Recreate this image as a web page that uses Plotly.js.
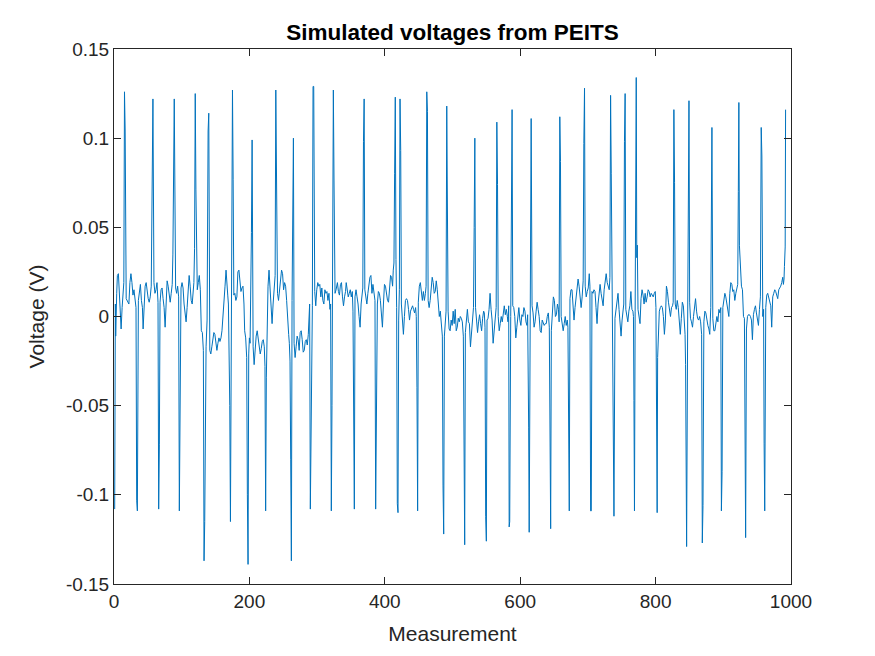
<!DOCTYPE html>
<html>
<head>
<meta charset="utf-8">
<script src="https://cdn.plot.ly/plotly-3.0.1.min.js"></script>
<style>
html,body{margin:0;padding:0;background:#fff;}
#chart{width:875px;height:656px;}
</style>
</head>
<body>
<div id="chart"></div>
<script>
const readings0to200 = [[1,-0.108],[2,0.007],[2.5,-0.011],[4,0.013],[5,0.023],[6.5,0.024],[7.5,0.017],[9,0.005],[10.5,-0.007],[12,0.005],[13.5,0.013],[14.5,0.019],[15.5,0.126],[16.5,0.104],[18,0.010],[20,0.008],[22,0.007],[23.5,0.019],[25,0.024],[26.5,0.019],[28,0.012],[29.5,0.015],[31,0.008],[32.5,0.005],[33.5,-0.103],[34.5,-0.109],[36,0.009],[37.5,0.015],[39,0.018],[40.5,0.009],[42,0.005],[43,-0.007],[44.5,0.004],[46,0.017],[47.5,0.019],[49,0.014],[50.5,0.010],[52,0.008],[53.5,0.011],[55,0.017],[56.5,0.080],[57.5,0.122],[59,0.019],[60.5,0.013],[62,0.015],[63.5,0.019],[65,0.008],[66,-0.108],[67,-0.072],[68,0.008],[69.5,0.015],[71,0.016],[72.5,0.010],[74,0.005],[75.5,-0.006],[77,0.006],[78.5,0.020],[80,0.017],[81.5,0.011],[83,0.008],[84.5,0.013],[86,0.018],[87,0.035],[88,0.077],[89,0.122],[91,0.016],[92.5,0.013],[94,0.017],[95.5,0.011],[96.5,-0.109],[97.5,-0.072],[99,0.016],[100.5,0.019],[102,0.016],[103.5,0.007],[105,0.003],[106.5,-0.003],[108,0.005],[109.5,0.013],[111,0.023],[112.5,0.017],[114,0.009],[115.5,0.007],[117,0.013],[118,0.019],[119,0.038],[120,0.125],[121,0.071],[123,0.015],[124.5,0.019],[126,0.023],[127.5,0.015],[129,-0.008],[130.5,-0.009],[132,-0.019],[133,-0.137],[134,-0.115],[136,-0.017],[137.5,-0.002],[139,0.104],[140,0.114],[141.5,-0.019],[143,-0.021],[144.5,-0.017],[146,-0.011],[147.5,-0.009],[149,-0.010],[150.5,-0.017],[152,-0.019],[153.5,-0.015],[155,-0.012],[156.5,-0.014],[158,-0.012],[159.5,-0.008],[161,-0.001],[162.5,0.008],[164,0.017],[165.5,0.026],[167,0.020],[168,0.012],[169,0.007],[170,-0.013],[171,-0.050],[172,-0.115],[173,0.010],[174,0.019],[175,0.127],[176,0.077],[177,0.012],[178.5,0.013],[180,0.009],[181.5,0.011],[183,0.025],[184.5,0.026],[186,0.017],[187.5,0.014],[189,0.016],[190.5,0.017],[192,0.007],[193,-0.008],[194.5,-0.012],[196,-0.023],[197,-0.100],[198,-0.139],[199,-0.021]];
const readings200to400 = [[200,-0.012],[201,-0.015],[202,0.010],[203,0.047],[204,0.099],[205.5,-0.017],[207,-0.027],[208.5,-0.017],[210,-0.011],[211.5,-0.008],[213,-0.012],[214.5,-0.017],[216,-0.021],[217.5,-0.018],[219,-0.014],[220.5,-0.013],[222,-0.017],[223,-0.028],[224,-0.109],[225,-0.034],[226,0.000],[227.5,0.017],[229,0.026],[230.5,0.013],[232,0.002],[233.5,-0.004],[235,0.007],[236.5,0.019],[238,0.023],[239,0.127],[240,0.086],[241.5,0.013],[243,0.009],[244.5,0.015],[246,0.019],[247.5,0.026],[249,0.024],[250.5,0.015],[252,0.019],[253.5,0.017],[255,0.009],[256.5,0.002],[258,-0.010],[259,-0.015],[260,-0.025],[261,-0.080],[262,-0.137],[263,0.009],[264,0.050],[265,0.100],[266,-0.015],[267.5,-0.023],[269,-0.017],[270.5,-0.011],[272,-0.013],[273.5,-0.019],[275,-0.009],[276.5,-0.008],[278,-0.013],[279.5,-0.020],[281,-0.019],[282.5,-0.014],[284,-0.013],[285.5,-0.016],[287,-0.010],[288,0.000],[289,0.007],[290,-0.108],[291,-0.053],[292,0.000],[293,0.006],[294,0.129],[295,0.129],[296.5,0.014],[298,0.006],[299.5,0.015],[301,0.019],[302.5,0.017],[304,0.018],[305.5,0.011],[307,0.016],[308.5,0.009],[310,0.007],[311.5,0.015],[313,0.013],[314.5,0.014],[316,0.009],[317.5,0.013],[319,0.004],[320,0.007],[321,-0.109],[322,-0.050],[323,0.028],[324,0.127],[325,0.076],[326.5,0.013],[328,0.015],[330,0.019],[331.5,0.014],[333,0.012],[334.5,0.018],[336,0.019],[337.5,0.011],[339,0.006],[340.5,0.011],[342,0.014],[343,0.019],[344.5,0.016],[346,0.011],[347.5,0.013],[349,0.015],[350.5,0.011],[352,0.014],[353,0.003],[354,-0.108],[355,-0.108],[356,0.011],[357.5,0.015],[359,0.011],[360.5,0.007],[362,0.000],[363.5,-0.006],[365,0.007],[366.5,0.013],[367.5,0.016],[368.5,0.098],[369.5,0.122],[370.5,0.015],[372,0.011],[373.5,0.007],[375,0.013],[376.5,0.019],[378,0.022],[379.5,0.023],[381,0.013],[382.5,0.018],[384,0.014],[385.5,0.009],[386.5,-0.108],[387.5,-0.065],[389,0.007],[390.5,0.014],[392,0.013],[393.5,0.009],[395,0.000],[396.5,-0.006],[398,0.007],[399.5,0.018]];
const readings400to600 = [[401,0.017],[402.5,0.011],[404,0.009],[405.5,0.008],[407,0.017],[408.5,0.023],[410,0.022],[411.5,0.017],[412.5,0.026],[413.5,0.030],[414.5,0.080],[415.5,0.123],[416.5,0.032],[417.5,0.005],[418.5,-0.105],[419.5,-0.110],[420.5,-0.002],[421.5,0.015],[422.5,0.122],[423.5,0.093],[424.5,0.007],[426,0.000],[427.5,-0.010],[429,0.000],[430.5,0.009],[432,0.010],[433.5,0.009],[435,0.004],[436.5,-0.002],[438,0.003],[439.5,0.005],[441,0.006],[442.5,0.004],[444,0.002],[445.5,0.005],[446.5,0.000],[447.5,-0.040],[448.5,-0.109],[449.5,0.008],[451,0.017],[452.5,0.019],[454,0.015],[455.5,0.009],[457,0.014],[458.5,0.009],[460,0.013],[461,0.017],[462,0.126],[463,0.115],[464,0.009],[465.5,0.005],[467,0.009],[468.5,0.018],[470,0.022],[471.5,0.019],[473,0.013],[474.5,0.014],[476,0.020],[477.5,0.015],[479,0.009],[480.5,0.000],[482,0.003],[483.5,-0.003],[485,-0.011],[486,-0.095],[487,-0.122],[488,-0.011],[489.5,-0.001],[490.5,0.003],[491.5,0.118],[492.5,0.080],[493.5,0.003],[495,-0.007],[496.5,-0.008],[498,-0.002],[499.5,-0.005],[501,0.003],[502.5,-0.004],[504,0.004],[505.5,-0.008],[507,-0.006],[508.5,-0.001],[510,-0.003],[511.5,0.000],[513,-0.001],[514.5,-0.003],[516,-0.011],[517,-0.097],[518,-0.128],[519,-0.009],[520.5,-0.001],[522,0.004],[523.5,-0.003],[525,-0.004],[526.5,-0.017],[528,-0.009],[529.5,0.000],[531,0.005],[532,0.050],[533,0.100],[534,0.005],[535.5,-0.006],[537,-0.009],[538.5,-0.003],[540,0.001],[541.5,-0.004],[543,-0.008],[544.5,-0.001],[546,0.003],[547,0.002],[548,-0.006],[549,-0.112],[550,-0.126],[551,-0.002],[552.5,-0.001],[554,0.004],[555.5,0.013],[557,0.004],[558.5,-0.002],[560,-0.015],[561.5,-0.008],[563,0.001],[564.5,0.005],[565.5,0.109],[566.5,0.074],[567.5,0.000],[569,-0.008],[570.5,-0.004],[572,0.000],[573.5,-0.003],[575,0.002],[576.5,0.006],[578,0.001],[579.5,0.004],[581,0.000],[582,-0.003],[583,0.006],[583.7,-0.118],[584.5,-0.115],[586,0.000],[587,0.065],[588,0.116],[589,0.006],[590.5,0.005],[592,0.000],[593.5,-0.012],[595,-0.006],[596.5,-0.001],[598,0.005],[599.5,-0.002]];
const readings600to800 = [[601,-0.005],[602.5,0.001],[604,0.000],[605.5,0.005],[607,0.003],[608.5,-0.003],[610,-0.005],[611,0.001],[611.8,-0.026],[612.5,-0.062],[613.3,-0.121],[614.5,-0.013],[615.3,0.062],[616.2,0.111],[617.5,0.006],[619,0.002],[620.5,-0.006],[622,-0.003],[623.5,0.003],[625,0.008],[626.5,0.004],[628,0.000],[629.5,-0.008],[631,-0.009],[632.5,-0.002],[634,-0.004],[635.5,-0.005],[637,-0.004],[638.5,-0.004],[640,0.000],[641.5,0.002],[643,-0.006],[644,-0.074],[645,-0.119],[646,-0.008],[647.5,0.004],[649,0.011],[650.5,0.009],[652,0.000],[653.5,0.001],[655,0.007],[656.5,0.004],[657.5,-0.003],[658.5,0.112],[659.5,0.087],[660.5,0.000],[662,-0.003],[663.5,-0.008],[665,-0.004],[666.5,0.000],[668,-0.005],[669.5,-0.002],[670.5,-0.006],[671.5,-0.067],[672.5,-0.109],[673.5,0.010],[675,0.015],[676.5,0.015],[678,0.007],[679.5,-0.002],[681,0.005],[682.5,0.011],[684,0.016],[685.5,0.021],[687,0.017],[688.5,0.008],[690,0.005],[691.5,0.011],[693,0.020],[694,0.097],[695,0.128],[696,0.017],[697.5,0.011],[699,0.014],[700.5,0.016],[702,0.024],[703,0.017],[704,-0.109],[705,-0.109],[706,0.014],[707.5,0.013],[709,0.015],[710.5,0.014],[712,0.005],[713.5,-0.004],[715,0.007],[716.5,0.012],[718,0.018],[719.5,0.013],[721,0.009],[722.5,0.006],[724,0.015],[725.5,0.020],[727,0.024],[728.5,0.019],[730,0.017],[731.5,0.015],[732.5,0.022],[733.5,0.124],[734.5,0.080],[735.5,0.020],[736.5,-0.002],[737.5,-0.108],[738.5,-0.112],[740,-0.001],[741.5,0.004],[743,0.009],[744.5,0.013],[746,0.004],[747.5,-0.004],[749,-0.011],[750.5,-0.002],[752,0.005],[753,0.007],[754,0.098],[755,0.125],[756,0.004],[757.5,0.000],[759,-0.003],[760.5,0.003],[762,0.006],[763.5,0.014],[765,0.004],[766.5,0.003],[767.3,0.000],[768,-0.047],[768.8,-0.109],[769.8,0.003],[770.6,0.064],[771.4,0.134],[772.2,0.033],[773,0.040],[774,0.004],[775.5,0.000],[777,-0.004],[778.5,0.010],[780,0.015],[781.5,0.012],[783,0.007],[784.5,0.013],[786,0.008],[787.5,0.011],[789,0.015],[790.5,0.014],[792,0.011],[793.5,0.013],[795,0.012],[796.5,0.011],[798,0.013],[799.5,0.014]];
const readings800to1000 = [[800.5,0.005],[801.5,-0.048],[802.3,-0.110],[803,-0.023],[804,-0.008],[805.5,0.003],[807,0.005],[808.5,0.006],[810,0.005],[811.5,0.000],[813,-0.010],[814.5,-0.002],[816,0.017],[817.5,0.014],[819,0.008],[820.5,0.002],[822,0.000],[823.5,0.005],[825,0.006],[826,0.008],[827,0.116],[828,0.075],[829,0.007],[830.5,0.004],[832,0.009],[833.5,0.005],[835,-0.006],[836.5,-0.010],[838,-0.001],[839.5,0.008],[841,0.006],[842.5,-0.001],[843.5,-0.010],[844.3,-0.027],[845,-0.057],[845.8,-0.129],[847.5,0.007],[848.5,0.076],[849.3,0.121],[850.3,0.008],[851.5,-0.001],[853,-0.003],[854.5,-0.006],[856,0.000],[857.5,0.005],[859,0.010],[860.5,0.003],[862,-0.001],[863.5,-0.002],[865,0.000],[866.5,-0.003],[868,-0.010],[869,-0.127],[870,-0.106],[871.3,-0.003],[872.8,0.003],[874.2,0.002],[875.7,-0.003],[877.2,-0.005],[878.7,-0.007],[880,-0.010],[881.5,0.005],[882.3,0.058],[883.2,0.106],[884.5,-0.001],[886,-0.008],[887.5,-0.008],[889,-0.003],[890.5,0.000],[892,-0.003],[893.5,0.004],[895,0.002],[896.3,0.005],[897.2,-0.109],[898.2,-0.087],[899.3,0.005],[900.8,0.011],[902.3,0.013],[903.7,0.011],[905.2,0.007],[906.7,0.003],[908.2,0.000],[909.6,0.013],[911.1,0.019],[912.6,0.018],[914,0.014],[915.5,0.015],[917,0.009],[918.5,0.013],[920,0.017],[921.3,0.018],[922.2,0.070],[923,0.120],[923.8,0.040],[925.3,0.023],[926.8,0.017],[928.3,0.015],[929.8,0.000],[931.2,-0.001],[932.2,-0.085],[933,-0.124],[934.2,-0.007],[935.7,0.000],[937.1,0.001],[938.6,0.001],[940.1,0.000],[941.6,-0.002],[943,-0.013],[944.5,0.001],[946,0.004],[947.5,0.006],[948.9,0.002],[950.4,-0.001],[951.9,-0.005],[953.4,0.004],[954.8,0.011],[956,0.106],[957,0.090],[958.3,0.000],[959.5,0.004],[960.3,-0.071],[961.2,-0.109],[962.7,0.005],[964.2,0.012],[965.6,0.013],[967.1,0.011],[968.6,0.008],[970.1,0.006],[971.5,-0.006],[973,0.011],[974.5,0.013],[976,0.015],[977.4,0.014],[978.9,0.012],[980.4,0.010],[981.9,0.015],[983.3,0.016],[984.8,0.017],[986.3,0.019],[987.8,0.022],[988.8,0.018],[989.7,0.021],[990.3,0.028],[990.9,0.035],[991.4,0.039],[992,0.116]];

const xTickValues = [0, 200, 400, 600, 800, 1000];
const yTickValues = [-0.15, -0.1, -0.05, 0, 0.05, 0.1, 0.15];
const yTickLabels = ['-0.15', '-0.1', '-0.05', '0', '0.05', '0.1', '0.15'];

const allReadings = [].concat(readings0to200, readings200to400, readings400to600, readings600to800, readings800to1000);
const measurement = allReadings.map(r => r[0]);
const voltage = allReadings.map(r => r[1]);

const FONT = 'Liberation Sans, Arial, Helvetica, sans-serif';
const AX = '#262626';

const trace = {
  x: measurement, y: voltage, type: 'scatter', mode: 'lines',
  line: {color: '#0072BD', width: 1}, hoverinfo: 'x+y'
};

const axisCommon = {
  showline: true, mirror: 'ticks', linecolor: AX, linewidth: 1,
  ticks: 'inside', ticklen: 7, tickwidth: 1, tickcolor: AX,
  showgrid: false, zeroline: false,
  tickfont: {family: FONT, size: 19, color: AX}
};

const layout = {
  width: 875, height: 656,
  paper_bgcolor: '#ffffff', plot_bgcolor: '#ffffff',
  margin: {l: 114, r: 84, t: 49, b: 72},
  showlegend: false,
  title: {text: '<b>Simulated voltages from PEITS</b>', font: {family: FONT, size: 22.5, color: '#000000'},
          x: 0.5, xref: 'paper', y: 1 - 32/656, yref: 'container', yanchor: 'middle'},
  xaxis: Object.assign({}, axisCommon, {
    range: [0, 1000], tickmode: 'array', tickvals: xTickValues,
    title: {text: 'Measurement', font: {family: FONT, size: 21, color: AX}, standoff: 15}
  }),
  yaxis: Object.assign({}, axisCommon, {
    range: [-0.15, 0.15], tickmode: 'array', tickvals: yTickValues, ticktext: yTickLabels,
    title: {text: 'Voltage (V)', font: {family: FONT, size: 21, color: AX}, standoff: 15}
  })
};

Plotly.newPlot('chart', [trace], layout, {displayModeBar: false, staticPlot: true});
</script>
</body>
</html>
